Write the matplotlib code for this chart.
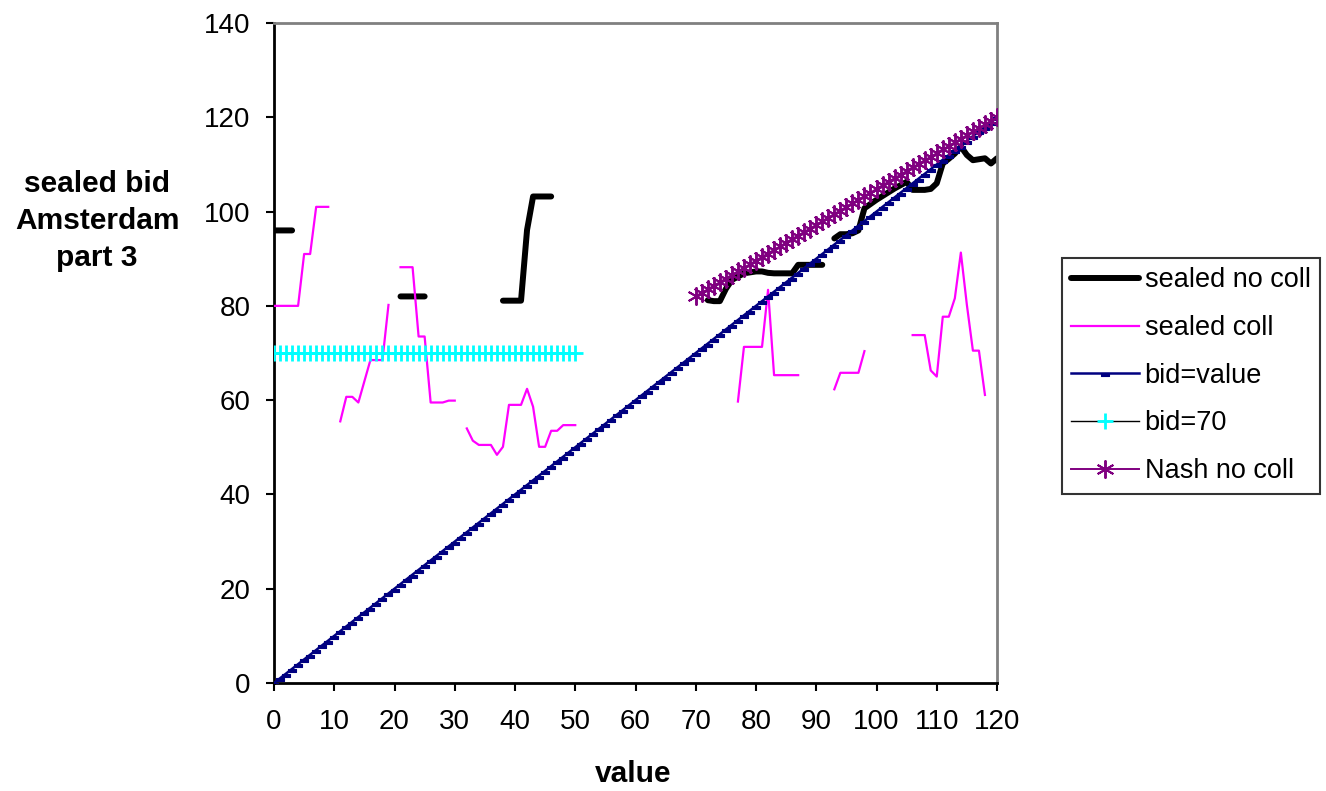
import matplotlib
matplotlib.use("Agg")
import matplotlib.pyplot as plt
from matplotlib.path import Path
import numpy as np

N = None
# value axis (categories)
values = list(range(0, 121))

# sealed no coll (black, thick) - gaps as None
snc_x = [0, 1, 2, 3, N,
         21, 22, 23, 24, 25, N,
         38, 39, 40, 41, 42, 43, 44, 45, 46, N,
         72, 73, 74, 75, 76, 77, 78, 79, 80, 81, 82, 83, 84, 85, 86, 87, 88, 89, 90, 91, N,
         93, 94, 95, 96, 97, 98, 99, 100, 101, 102, 103, 104, 105, 106, 107, 108, 109, 110,
         111, 112, 113, 114, 115, 116, 117, 118, 119, 120]
snc_y = [96, 96, 96, 96, N,
         82, 82, 82, 82, 82, N,
         81.1, 81.1, 81.1, 81.1, 96.1, 103.2, 103.2, 103.2, 103.2, N,
         81.2, 81.0, 81.0, 83.6, 85.5, 86.2, 86.9, 87.1, 87.3, 87.3, 87.0, 86.9, 86.9, 86.9,
         86.9, 88.7, 88.7, 88.7, 88.7, 88.7, N,
         94.3, 95.2, 95.2, 95.4, 96.0, 100.7, 101.6, 102.5, 103.3, 104.1, 104.9, 105.6, 106.3,
         104.6, 104.6, 104.6, 104.8, 106.0, 110.2, 111.2, 112.3, 113.8, 112.0, 110.9, 111.1,
         111.3, 110.2, 111.3]

# sealed coll (magenta, thin)
sc_x = [0, 1, 2, 3, 4, 5, 6, 7, 8, 9, N,
        11, 12, 13, 14, 15, 16, 17, 18, 19, N,
        21, 22, 23, 24, 25, 26, 27, 28, 29, 30, N,
        32, 33, 34, 35, 36, 37, 38, 39, 40, 41, 42, 43, 44, 45, 46, 47, 48, 49, 50, N,
        77, 78, 79, 80, 81, 82, 83, 84, 85, 86, 87, N,
        93, 94, 95, 96, 97, 98, N,
        106, 107, 108, 109, 110, 111, 112, 113, 114, 115, 116, 117, 118]
sc_y = [80, 80, 80, 80, 80, 91, 91, 101, 101, 101, N,
        55.5, 60.7, 60.7, 59.5, 64.0, 68.5, 68.5, 68.5, 80.2, N,
        88.2, 88.2, 88.2, 73.5, 73.5, 59.5, 59.5, 59.5, 59.9, 59.9, N,
        54.0, 51.4, 50.5, 50.5, 50.5, 48.4, 50.1, 59.0, 59.0, 59.0, 62.4, 58.6, 50.1, 50.1,
        53.5, 53.5, 54.7, 54.7, 54.7, N,
        59.7, 71.3, 71.3, 71.3, 71.3, 83.4, 65.3, 65.3, 65.3, 65.3, 65.3, N,
        62.3, 65.8, 65.8, 65.8, 65.8, 70.4, N,
        73.8, 73.8, 73.8, 66.3, 65.0, 77.7, 77.7, 81.6, 91.3, 80.2, 70.5, 70.5, 61.1]

# bid = value
bv_x = values
bv_y = values

# bid = 70
b70_x = list(range(0, 51))
b70_y = [70] * 51

# Nash no coll
nash_x = list(range(70, 121))
nash_y = [82.0, 82.8, 83.5, 84.3, 85.0, 85.8, 86.6, 87.3, 88.1, 88.8, 89.6, 90.4, 91.1,
          91.9, 92.6, 93.4, 94.2, 94.9, 95.7, 96.4, 97.2, 98.0, 98.7, 99.5, 100.2, 101.0,
          101.8, 102.5, 103.3, 104.0, 104.8, 105.6, 106.3, 107.1, 107.8, 108.6, 109.4,
          110.1, 110.9, 111.6, 112.4, 113.2, 113.9, 114.7, 115.4, 116.2, 117.0, 117.7,
          118.5, 119.2, 120.0]

x_ticks = list(range(0, 121, 10))
y_ticks = list(range(0, 141, 20))


def arr(a):
    return np.array([np.nan if v is None else v for v in a], dtype=float)


plt.rcParams['font.family'] = ['Liberation Sans', 'DejaVu Sans']

W, H = 1326, 791
fig = plt.figure(figsize=(W / 100, H / 100), dpi=100)
L, R, T, B = 274, 997, 23, 683
ax = fig.add_axes([L / W, 1 - B / H, (R - L) / W, (B - T) / H])

dash_marker = Path([(-1, 0.1), (1, 0.1), (1, -0.6), (-1, -0.6), (-1, 0.1)],
                   [Path.MOVETO, Path.LINETO, Path.LINETO, Path.LINETO, Path.CLOSEPOLY])
asterisk = (6, 2, 0)

ax.plot(arr(snc_x), arr(snc_y), color='black', lw=4.3, solid_capstyle='round',
        solid_joinstyle='round', label='sealed no coll', zorder=2)
ax.plot(arr(sc_x), arr(sc_y), color='#FF00FF', lw=1.6, label='sealed coll', zorder=3)
ax.plot(bv_x, bv_y, color='#000080', lw=1.8, marker=dash_marker, markersize=6,
        markerfacecolor='#000080', markeredgecolor='#000080', markeredgewidth=0.8,
        label='bid=value', zorder=4)
ax.plot(b70_x, b70_y, color='black', lw=1.0, marker='+', markersize=11,
        markeredgewidth=2.0, markeredgecolor='#00FFFF', label='bid=70', zorder=5)
ax.plot(nash_x, nash_y, color='#800080', lw=1.4, marker=asterisk, markersize=13,
        markeredgewidth=1.4, markeredgecolor='#800080', label='Nash no coll', zorder=6)

ax.set_xlim(0, 120)
ax.set_ylim(0, 140)
ax.set_xticks(x_ticks)
ax.set_yticks(y_ticks)
ax.tick_params(axis='both', direction='out', length=6, width=1.5, labelsize=20,
               colors='black')
ax.tick_params(axis='x', pad=13)
ax.tick_params(axis='y', pad=11)

for s in ('left', 'bottom'):
    ax.spines[s].set_color('black')
    ax.spines[s].set_linewidth(2)
for s in ('top', 'right'):
    ax.spines[s].set_color('#808080')
    ax.spines[s].set_linewidth(2)

fig.text(97 / W, 1 - 221 / H, 'sealed bid\nAmsterdam\npart 3', ha='center', va='center',
         fontsize=21.5, fontweight='bold', linespacing=1.4)
fig.text(633 / W, 1 - 774 / H, 'value', ha='center', va='center', fontsize=21.5,
         fontweight='bold')

leg = fig.legend(loc='upper left', bbox_to_anchor=(1062 / W, 1 - 258 / H),
                 bbox_transform=fig.transFigure, fontsize=19.5, frameon=True,
                 fancybox=False, edgecolor='black', handlelength=2.5, handletextpad=0.2,
                 labelspacing=0.8, borderpad=0.35, borderaxespad=0)
leg.get_frame().set_linewidth(1.5)

fig.savefig('out.png', dpi=100)
